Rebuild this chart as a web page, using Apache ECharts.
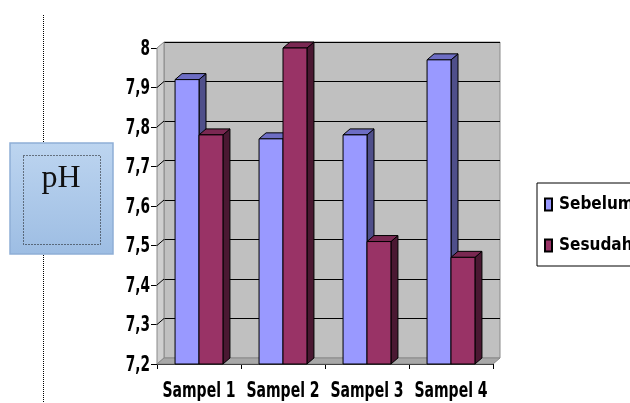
<!DOCTYPE html>
<html>
<head>
<meta charset="utf-8">
<script src="https://cdn.jsdelivr.net/npm/echarts@6/dist/echarts.min.js"></script>
<style>
  html, body { margin: 0; padding: 0; background: #fff; }
  #chart { width: 630px; height: 403px; }
</style>
</head>
<body>
<div id="chart"></div>
<script>
const categories = ['Sampel 1', 'Sampel 2', 'Sampel 3', 'Sampel 4']
const sebelum = [7.92, 7.77, 7.78, 7.97]
const sesudah = [7.78, 8.0, 7.51, 7.47]
const yTicks = [7.2, 7.3, 7.4, 7.5, 7.6, 7.7, 7.8, 7.9, 8]
const yTickLabels = ['7,2', '7,3', '7,4', '7,5', '7,6', '7,7', '7,8', '7,9', '8']
const yMin = 7.2
const yMax = 8
const yStep = 0.1

const font = "'DejaVu Sans Condensed', 'DejaVu Sans', sans-serif"
// 3D depth offset
const dx = 7
const dy = -6

const chart = echarts.init(document.getElementById('chart'), null, { renderer: 'canvas' })

function bar3d(seriesIdx, front, side, top) {
  return function (params, api) {
    const cat = api.value(0)
    const val = api.value(1)
    const pTop = api.coord([cat, val])
    const pBase = api.coord([cat, yMin])
    const w = api.size([1, 0])[0] * 0.285
    const x0 = pTop[0] + (seriesIdx === 0 ? -w : 0)
    const y0 = pTop[1]
    const y1 = pBase[1]
    const line = { stroke: '#000', lineWidth: 1 }
    return {
      type: 'group',
      children: [
        { type: 'polygon', shape: { points: [[x0 + w, y0], [x0 + w + dx, y0 + dy], [x0 + w + dx, y1 + dy], [x0 + w, y1]] },
          style: Object.assign({ fill: side }, line) },
        { type: 'polygon', shape: { points: [[x0, y0], [x0 + dx, y0 + dy], [x0 + w + dx, y0 + dy], [x0 + w, y0]] },
          style: Object.assign({ fill: top }, line) },
        { type: 'rect', shape: { x: x0, y: y0, width: w, height: y1 - y0 },
          style: Object.assign({ fill: front }, line) }
      ]
    }
  }
}

// left wall, floor and slanted tick stubs
function wallItem(params, api) {
  const a = api.coord([0, yMin])
  const b = api.coord([0, yMax])
  const c = api.coord([categories.length, yMin])
  const left = a[0] - api.size([1, 0])[0] / 2
  const right = c[0] - api.size([1, 0])[0] / 2
  const children = [
    { type: 'polygon', shape: { points: [[left, b[1]], [left + dx, b[1] + dy], [left + dx, a[1] + dy], [left, a[1]]] },
      style: { fill: '#cfcfcf', stroke: '#8a8a8a', lineWidth: 1 } },
    { type: 'polygon', shape: { points: [[left, a[1]], [left + dx, a[1] + dy], [right + dx, a[1] + dy], [right, a[1]]] },
      style: { fill: '#a8a8a8', stroke: '#8a8a8a', lineWidth: 1 } }
  ]
  for (let v = 1; v < yTicks.length - 1; v++) {
    const p = api.coord([0, yTicks[v]])
    children.push({ type: 'line', shape: { x1: left, y1: p[1], x2: left + dx, y2: p[1] + dy },
      style: { stroke: '#000', lineWidth: 1 } })
  }
  return { type: 'group', children }
}

// narrow bold labels (condensed by scaling the text horizontally)
function xLabelItem(params, api) {
  const p = api.coord([api.value(0), yMin])
  return {
    type: 'text', x: p[0], y: p[1] + 16, scaleX: 0.78, scaleY: 1.1,
    style: { text: categories[params.dataIndex], font: 'bold 20px ' + font, fill: '#000', align: 'center', verticalAlign: 'top' }
  }
}

function yLabelItem(params, api) {
  const p = api.coord([0, api.value(1)])
  const left = p[0] - api.size([1, 0])[0] / 2
  return {
    type: 'text', x: left - 7, y: p[1] + 1, scaleX: 0.76, scaleY: 1.08,
    style: { text: yTickLabels[params.dataIndex], font: 'bold 20px ' + font, fill: '#000', align: 'right', verticalAlign: 'middle' }
  }
}

const option = {
  animation: false,
  backgroundColor: '#fff',
  grid: [
    { left: 157, top: 48, width: 336, height: 316 },
    { left: 157 + dx, top: 48 + dy, width: 336, height: 316, show: true,
      backgroundColor: '#c0c0c0', borderColor: '#8a8a8a', borderWidth: 1 }
  ],
  xAxis: [
    {
      gridIndex: 0, type: 'category', data: categories, boundaryGap: true,
      axisLine: { lineStyle: { color: '#000', width: 1 } },
      axisTick: { show: true, length: 5, lineStyle: { color: '#000' } },
      axisLabel: { show: false }
    },
    { gridIndex: 1, type: 'category', data: categories, show: false }
  ],
  yAxis: [
    {
      gridIndex: 0, type: 'value', min: yMin, max: yMax, interval: yStep,
      axisLine: { show: true, lineStyle: { color: '#000', width: 1 } },
      axisTick: { show: true, length: 6, lineStyle: { color: '#000' } },
      splitLine: { show: false },
      axisLabel: { show: false }
    },
    {
      gridIndex: 1, type: 'value', min: yMin, max: yMax, interval: yStep,
      axisLine: { show: false }, axisTick: { show: false }, axisLabel: { show: false },
      splitLine: { show: true, lineStyle: { color: '#000', width: 1 } }
    }
  ],
  legend: {
    orient: 'vertical', left: 537, top: 183,
    padding: [13, 80, 12, 7], itemGap: 24, itemWidth: 7, itemHeight: 12,
    borderColor: '#000', borderWidth: 1, backgroundColor: '#fff',
    icon: 'rect',
    data: ['Sebelum', 'Sesudah'],
    textStyle: { color: '#000', fontFamily: font, fontWeight: 'bold', fontSize: 17, lineHeight: 14, padding: [0, 0, 0, 2] }
  },
  graphic: [
    { type: 'line', shape: { x1: 43.5, y1: 15, x2: 43.5, y2: 403 },
      style: { stroke: '#000', lineWidth: 1, lineDash: [1, 1] }, z: 1 },
    { type: 'rect', shape: { x: 10, y: 143, width: 103, height: 111 },
      style: {
        fill: new echarts.graphic.LinearGradient(0, 0, 0, 1, [
          { offset: 0, color: '#bdd5f0' },
          { offset: 1, color: '#9dbde3' }
        ]),
        stroke: '#8eaed6', lineWidth: 1.5
      }, z: 5 },
    { type: 'rect', shape: { x: 23.5, y: 155.5, width: 77, height: 89 },
      style: { fill: 'none', stroke: '#111', lineWidth: 1, lineDash: [1, 2] }, z: 6 },
    { type: 'text', x: 61, y: 163,
      style: { text: 'pH', font: "32px 'Liberation Serif', 'DejaVu Serif', serif", fill: '#111', align: 'center', verticalAlign: 'top' },
      z: 7 }
  ],
  series: [
    { type: 'custom', name: 'wall', xAxisIndex: 0, yAxisIndex: 0, z: 1, silent: true,
      data: [[0, yMin]], renderItem: wallItem },
    { type: 'custom', name: 'Sebelum', xAxisIndex: 0, yAxisIndex: 0, z: 3,
      itemStyle: { color: '#9999ff', borderColor: '#000', borderWidth: 1 },
      data: sebelum.map((v, i) => [i, v]),
      renderItem: bar3d(0, '#9999ff', '#4f4f8a', '#6d6dc4') },
    { type: 'custom', name: 'Sesudah', xAxisIndex: 0, yAxisIndex: 0, z: 4,
      itemStyle: { color: '#993366', borderColor: '#000', borderWidth: 1 },
      data: sesudah.map((v, i) => [i, v]),
      renderItem: bar3d(1, '#993366', '#4a1832', '#7a2852') },
    { type: 'custom', name: 'xLabels', xAxisIndex: 0, yAxisIndex: 0, z: 5, silent: true, clip: false,
      data: categories.map((c, i) => [i, yMin]), renderItem: xLabelItem },
    { type: 'custom', name: 'yLabels', xAxisIndex: 0, yAxisIndex: 0, z: 5, silent: true, clip: false,
      data: yTicks.map(v => [0, v]), renderItem: yLabelItem }
  ]
}

chart.setOption(option)
</script>
</body>
</html>
